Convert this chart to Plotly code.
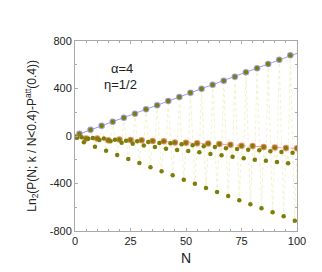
import numpy as np
import plotly.graph_objects as go

# N values by residue class (period 5)
N0 = list(range(0, 101, 5))
N1 = list(range(1, 97, 5))
N2 = list(range(2, 98, 5))
N3 = list(range(3, 99, 5))
N4 = list(range(4, 100, 5))

r0 = [-8, -20, -22, -36, -30, -34, -36, -42, -45, -54, -56, -60, -64, -67, -73, -82, -85, -93, -96, -101, -104]
r1 = [-14, -24, -34, -44, -56, -66, -80, -93, -107, -118, -126, -137, -152, -163, -174, -188, -199, -208, -219, -230]
r2 = [19, 53, 87, 120, 154, 188, 225, 258, 295, 328, 365, 398, 432, 466, 499, 536, 570, 606, 643, 680]
r3 = [-10, -17, -22, -31, -39, -45, -51, -58, -62, -70, -78, -86, -93, -104, -109, -115, -120, -129, -135, -141]
r4 = [-53, -90, -124, -160, -194, -227, -264, -297, -331, -368, -402, -438, -472, -505, -542, -575, -609, -643, -676, -713]

x_ticks = [0, 25, 50, 75, 100]
x_labels = ["0", "25", "50", "75", "100"]
y_ticks = [-800, -400, 0, 400, 800]
y_labels = ["-800", "-400", "0", "400", "800"]

# combined series in N order
pairs = sorted(list(zip(N0, r0)) + list(zip(N1, r1)) + list(zip(N2, r2)) +
               list(zip(N3, r3)) + list(zip(N4, r4)))
N_all = [p[0] for p in pairs]
y_all = [p[1] for p in pairs]

# straight line through the upper points, extended to the right edge
slope, icpt = np.polyfit(N2, r2, 1)
fit_x = [N2[0], 100]
fit_y = [slope * v + icpt for v in fit_x]

FONT = "Liberation Sans, Arial"

fig = go.Figure()
fig.add_trace(go.Scatter(x=N_all, y=y_all, mode="lines",
                         line=dict(color="#f2f2cc", width=1, dash="dot"),
                         hoverinfo="skip", showlegend=False))
fig.add_trace(go.Scatter(x=fit_x, y=fit_y, mode="lines",
                         line=dict(color="#9a9cf0", width=1),
                         showlegend=False))
fig.add_trace(go.Scatter(x=N2, y=r2, mode="markers",
                         marker=dict(color="#9c9edc", size=6.5),
                         showlegend=False))
fig.add_trace(go.Scatter(x=N0, y=r0, mode="lines+markers",
                         line=dict(color="#ff9a9a", width=1, dash="dash"),
                         marker=dict(color="#f08a68", size=6.5),
                         showlegend=False))
fig.add_trace(go.Scatter(x=N_all, y=y_all, mode="markers",
                         marker=dict(color="#7d7d08", size=4.5),
                         showlegend=False))

axis_common = dict(showline=True, linecolor="#aaaaaa", linewidth=1, mirror="ticks",
                   ticks="inside", ticklen=3, tickcolor="#aaaaaa", showgrid=False,
                   zeroline=False, tickfont=dict(family=FONT, size=11, color="#222222"))

fig.update_xaxes(range=[0, 100], tickvals=x_ticks, ticktext=x_labels,
                 minor=dict(dtick=5, ticks="inside", ticklen=2, tickcolor="#aaaaaa"),
                 title=dict(text="N", font=dict(family=FONT, size=14, color="#222222"), standoff=6),
                 **axis_common)
fig.update_yaxes(range=[-800, 800], tickvals=y_ticks, ticktext=y_labels,
                 minor=dict(dtick=200, ticks="inside", ticklen=2, tickcolor="#aaaaaa"),
                 **axis_common)

fig.add_annotation(xref="paper", yref="paper", x=-0.195, y=0.5, textangle=-90,
                   xanchor="center", yanchor="middle",
                   text="Ln<sub>2</sub>(P(N; k / N&lt;0.4)-P<sup>att</sup>(0.4))",
                   showarrow=False, font=dict(family=FONT, size=12, color="#222222"))
fig.add_annotation(xref="x", yref="y", x=21, y=565, text="α=4", showarrow=False,
                   xanchor="center", yanchor="middle",
                   font=dict(family=FONT, size=13, color="#222222"))
fig.add_annotation(xref="x", yref="y", x=20.5, y=430, text="η=1/2", showarrow=False,
                   xanchor="center", yanchor="middle",
                   font=dict(family=FONT, size=13, color="#222222"))

fig.update_layout(width=322, height=272, margin=dict(l=67, r=33, t=33, b=49),
                  plot_bgcolor="white", paper_bgcolor="white")
fig.write_html("out.html")
